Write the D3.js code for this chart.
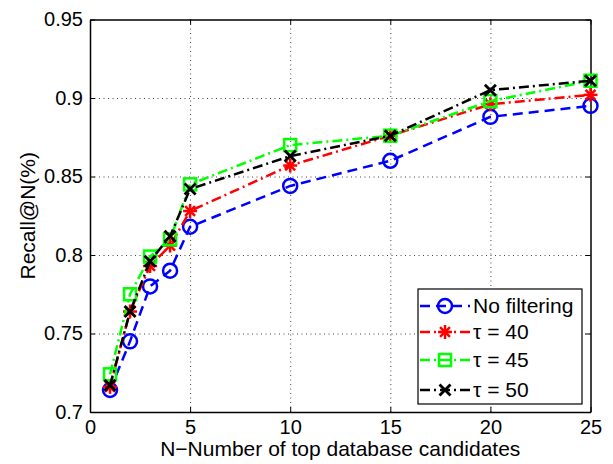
<!DOCTYPE html>
<html>
<head>
<meta charset="utf-8">
<script src="https://cdn.jsdelivr.net/npm/d3@7"></script>
<style>
  body { margin: 0; background: #fff; }
  svg { font-family: "Liberation Sans", Arial, sans-serif; }
</style>
</head>
<body>
<script>
// recall@N data
const nValues = [1, 2, 3, 4, 5, 10, 15, 20, 25];
const noFiltering = [0.714, 0.745, 0.780, 0.790, 0.818, 0.844, 0.860, 0.888, 0.895];
const tau40 = [0.716, 0.764, 0.793, 0.806, 0.828, 0.857, 0.876, 0.896, 0.902];
const tau45 = [0.724, 0.775, 0.799, 0.810, 0.845, 0.870, 0.876, 0.898, 0.911];
const tau50 = [0.717, 0.764, 0.796, 0.812, 0.842, 0.863, 0.876, 0.905, 0.911];
const seriesNames = ['No filtering', '\u03c4 = 40', '\u03c4 = 45', '\u03c4 = 50'];
const xTicks = [0, 5, 10, 15, 20, 25];
const yTicks = [0.7, 0.75, 0.8, 0.85, 0.9, 0.95];

const width = 613;
const height = 464;
const margins = { top: 19.5, bottom: 52, left: 90, right: 22.5 };
const plotW = width - margins.left - margins.right;
const plotH = height - margins.top - margins.bottom;

const series = [
    { name: seriesNames[0], values: noFiltering, color: '#0000ff', dash: '10,6', marker: 'circle' },
    { name: seriesNames[1], values: tau40, color: '#ff0000', dash: '10,4,2,4', marker: 'star' },
    { name: seriesNames[2], values: tau45, color: '#00ff00', dash: '10,4,2,4', marker: 'square' },
    { name: seriesNames[3], values: tau50, color: '#000000', dash: '10,4,2,4', marker: 'cross' }
];

const svg = d3.select('body').append('svg')
    .attr('width', width)
    .attr('height', height);

const chart = svg.append('g')
    .attr('transform', `translate(${margins.left}, ${margins.top})`);

const xScale = d3.scaleLinear().domain([0, 25]).range([0, plotW]);
const yScale = d3.scaleLinear().domain([0.7, 0.95]).range([plotH, 0]);

// dotted grid
chart.append('g')
    .call(d3.axisBottom(xScale).tickValues(xTicks.slice(1, -1)).tickSize(plotH).tickFormat(''))
    .call(g => g.select('.domain').remove())
    .selectAll('line')
    .attr('stroke', '#444')
    .attr('stroke-dasharray', '1,3.5');

chart.append('g')
    .call(d3.axisLeft(yScale).tickValues(yTicks.slice(1, -1)).tickSize(-plotW).tickFormat(''))
    .call(g => g.select('.domain').remove())
    .selectAll('line')
    .attr('stroke', '#444')
    .attr('stroke-dasharray', '1,3.5');

// axes with inward ticks, mirrored on top / right
const tickFont = g => g.selectAll('text')
    .attr('fill', '#000')
    .style('font-size', '20px');

chart.append('g')
    .attr('transform', `translate(0, ${plotH})`)
    .call(d3.axisBottom(xScale).tickValues(xTicks).tickSize(-5).tickPadding(8).tickSizeOuter(0))
    .call(tickFont);

chart.append('g')
    .call(d3.axisTop(xScale).tickValues(xTicks).tickSize(-5).tickSizeOuter(0).tickFormat(''));

chart.append('g')
    .call(d3.axisLeft(yScale).tickValues(yTicks).tickSize(-5).tickPadding(7).tickSizeOuter(0)
        .tickFormat(d => String(+d.toFixed(2))))
    .call(tickFont);

chart.append('g')
    .attr('transform', `translate(${plotW}, 0)`)
    .call(d3.axisRight(yScale).tickValues(yTicks).tickSize(-5).tickSizeOuter(0).tickFormat(''));

chart.selectAll('.domain').attr('stroke', '#000').attr('stroke-width', 1.5);
chart.selectAll('.tick line').filter(function () {
    return !this.getAttribute('stroke-dasharray');
}).attr('stroke', '#000');

function drawMarker(g, type, color, x, y) {
    if (type === 'circle') {
        g.append('circle').attr('cx', x).attr('cy', y).attr('r', 7)
            .attr('fill', 'none').attr('stroke', color).attr('stroke-width', 2.5);
    } else if (type === 'square') {
        g.append('rect').attr('x', x - 6).attr('y', y - 6).attr('width', 12).attr('height', 12)
            .attr('fill', 'none').attr('stroke', color).attr('stroke-width', 2.5);
    } else if (type === 'star') {
        const r = 7;
        [0, 45, 90, 135].forEach(a => {
            const dx = r * Math.cos(a * Math.PI / 180);
            const dy = r * Math.sin(a * Math.PI / 180);
            g.append('line').attr('x1', x - dx).attr('y1', y - dy).attr('x2', x + dx).attr('y2', y + dy)
                .attr('stroke', color).attr('stroke-width', 2.5);
        });
    } else {
        const r = 5.5;
        [[-r, -r, r, r], [-r, r, r, -r]].forEach(p => {
            g.append('line').attr('x1', x + p[0]).attr('y1', y + p[1]).attr('x2', x + p[2]).attr('y2', y + p[3])
                .attr('stroke', color).attr('stroke-width', 2.8);
        });
    }
}

const line = d3.line()
    .x(d => xScale(d[0]))
    .y(d => yScale(d[1]));

series.forEach(s => {
    const pts = nValues.map((n, i) => [n, s.values[i]]);
    const g = chart.append('g');
    g.append('path')
        .datum(pts)
        .attr('d', line)
        .attr('fill', 'none')
        .attr('stroke', s.color)
        .attr('stroke-width', 2.5)
        .attr('stroke-dasharray', s.dash);
    pts.forEach(p => drawMarker(g, s.marker, s.color, xScale(p[0]), yScale(p[1])));
});

// axis titles
svg.append('text')
    .attr('x', margins.left + plotW / 2)
    .attr('y', 456)
    .attr('text-anchor', 'middle')
    .style('font-size', '21px')
    .text('N\u2212Number of top database candidates');

svg.append('text')
    .attr('transform', `translate(35, ${margins.top + plotH / 2}) rotate(-90)`)
    .attr('text-anchor', 'middle')
    .style('font-size', '21px')
    .text('Recall@N(%)');

// legend
const legend = svg.append('g').attr('transform', 'translate(418, 289)');
legend.append('rect')
    .attr('width', 164).attr('height', 115)
    .attr('fill', '#fff').attr('stroke', '#000').attr('stroke-width', 1.2);

const rowY = [17, 43, 71, 101];
series.forEach((s, i) => {
    const row = legend.append('g').attr('transform', `translate(0, ${rowY[i]})`);
    row.append('line')
        .attr('x1', 2).attr('x2', 52).attr('y1', 0).attr('y2', 0)
        .attr('stroke', s.color).attr('stroke-width', 2.5)
        .attr('stroke-dasharray', s.dash);
    drawMarker(row, s.marker, s.color, 27, 0);
    row.append('text')
        .attr('x', 55).attr('y', 0).attr('dy', '0.35em')
        .style('font-size', '21px')
        .text(s.name);
});
</script>
</body>
</html>
